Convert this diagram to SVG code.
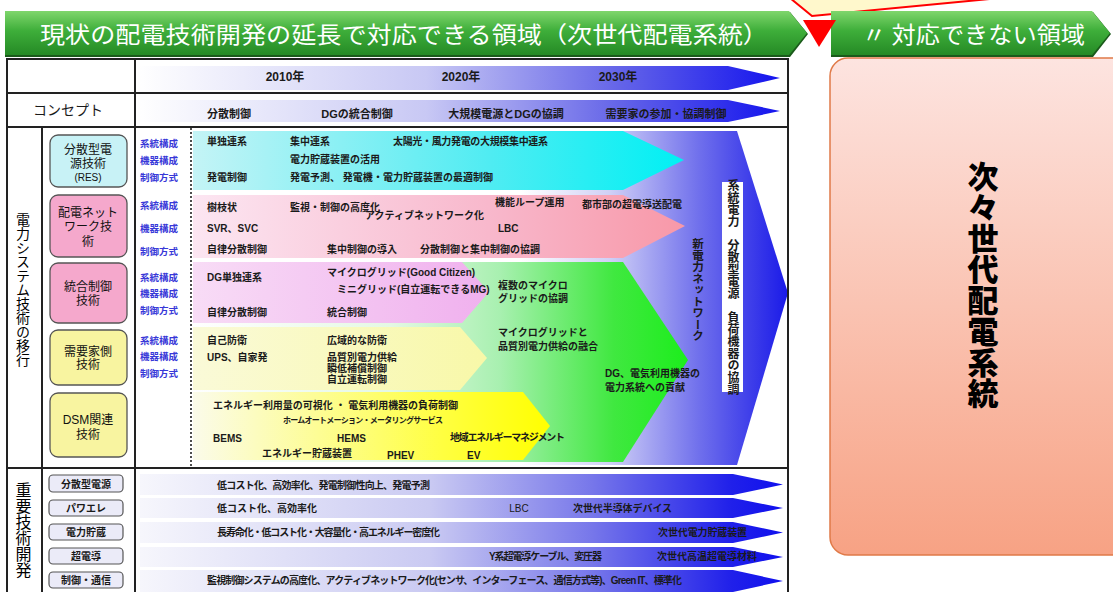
<svg xmlns="http://www.w3.org/2000/svg" width="1113" height="592" viewBox="0 0 1113 592">
<style>
.t{font-family:"Liberation Sans","Noto Sans CJK JP",sans-serif;font-size:10px;font-weight:bold;fill:#1a1a1a;dominant-baseline:central}
.lab{fill:#3838d8;font-size:9.5px}
.hd{font-size:12px}
.nd{font-size:12px;font-weight:normal;fill:#111;text-anchor:middle}
.v{writing-mode:vertical-rl;text-anchor:middle}
.ban{font-family:"Noto Sans CJK JP",sans-serif;font-size:23px;fill:#fff;dominant-baseline:central}
.ln{stroke:#222;stroke-width:2;fill:none}
.box{stroke:#555;stroke-width:1.3}
.bl{fill:#ebebf8;stroke:#555;stroke-width:1.2}
</style>
<defs>
<linearGradient id="gGreen" x1="0" y1="0" x2="0" y2="1">
<stop offset="0" stop-color="#7fd66c"/><stop offset="0.45" stop-color="#3eae3a"/><stop offset="1" stop-color="#258a25"/>
</linearGradient>
<linearGradient id="gHead" gradientUnits="userSpaceOnUse" x1="137" y1="0" x2="780" y2="0">
<stop offset="0" stop-color="#ffffff"/><stop offset="0.45" stop-color="#c8c8f4"/><stop offset="0.75" stop-color="#6464e8"/><stop offset="1" stop-color="#1414ee"/>
</linearGradient>
<linearGradient id="gBig" gradientUnits="userSpaceOnUse" x1="193" y1="0" x2="788" y2="0">
<stop offset="0" stop-color="#ffffff"/><stop offset="0.55" stop-color="#ffffff"/><stop offset="0.7" stop-color="#d0d0f6"/><stop offset="0.85" stop-color="#7070ec"/><stop offset="1" stop-color="#1a1ae8"/>
</linearGradient>
<linearGradient id="gCyan" gradientUnits="userSpaceOnUse" x1="193" y1="0" x2="685" y2="0">
<stop offset="0" stop-color="#c4f4f6"/><stop offset="0.6" stop-color="#50ecf2"/><stop offset="1" stop-color="#00f0f4"/>
</linearGradient>
<linearGradient id="gPink" gradientUnits="userSpaceOnUse" x1="193" y1="0" x2="685" y2="0">
<stop offset="0" stop-color="#fce6f2"/><stop offset="0.6" stop-color="#f8b8cc"/><stop offset="1" stop-color="#f898a8"/>
</linearGradient>
<linearGradient id="gGr" gradientUnits="userSpaceOnUse" x1="193" y1="0" x2="688" y2="0">
<stop offset="0" stop-color="#ffffff"/><stop offset="0.4" stop-color="#e4f8e4"/><stop offset="0.62" stop-color="#a8f0b0"/><stop offset="0.85" stop-color="#40e840"/><stop offset="1" stop-color="#1cee1c"/>
</linearGradient>
<linearGradient id="gMag" gradientUnits="userSpaceOnUse" x1="193" y1="0" x2="490" y2="0">
<stop offset="0" stop-color="#f8dcf6"/><stop offset="1" stop-color="#f0b0ee"/>
</linearGradient>
<linearGradient id="gYel" gradientUnits="userSpaceOnUse" x1="193" y1="0" x2="487" y2="0">
<stop offset="0" stop-color="#fafad8"/><stop offset="1" stop-color="#f8f8a8"/>
</linearGradient>
<linearGradient id="gDsm" gradientUnits="userSpaceOnUse" x1="193" y1="0" x2="550" y2="0">
<stop offset="0" stop-color="#fbfbea"/><stop offset="0.7" stop-color="#ffff40"/><stop offset="1" stop-color="#ffff00"/>
</linearGradient>
<linearGradient id="gBot" gradientUnits="userSpaceOnUse" x1="140" y1="0" x2="783" y2="0">
<stop offset="0" stop-color="#f6f6fc"/><stop offset="0.45" stop-color="#cacaf2"/><stop offset="0.7" stop-color="#7878ea"/><stop offset="0.92" stop-color="#2020ea"/><stop offset="1" stop-color="#1010ee"/>
</linearGradient>
<linearGradient id="gRight" x1="0" y1="0" x2="0" y2="1">
<stop offset="0" stop-color="#fde4e0"/><stop offset="1" stop-color="#f7a284"/>
</linearGradient>
</defs>

<rect width="1113" height="592" fill="#ffffff"/>

<!-- top callout -->
<polygon points="790,-2 812,16 1000,-2" fill="#fff8cc" stroke="#ff0000" stroke-width="2"/>

<!-- banners -->
<g id="banner-left">
<polygon points="5,12 790,12 808,34 790,57 5,57" fill="#1a5a1a"/>
<polygon points="5,11 789,11 807,33 789,55 5,55" fill="url(#gGreen)"/>
<text class="ban" x="40" y="33" textLength="728" lengthAdjust="spacingAndGlyphs">現状の配電技術開発の延長で対応できる領域（次世代配電系統）</text>
</g>
<g id="banner-right">
<polygon points="831,12 1093,12 1111,34 1093,57 831,57" fill="#1a5a1a"/>
<polygon points="831,11 1092,11 1110,33 1092,55 831,55" fill="url(#gGreen)"/>
<text class="ban" x="862" y="33" textLength="223" lengthAdjust="spacingAndGlyphs">〃 対応できない領域</text>
</g>
<polygon id="red-triangle" points="803,20 836,20 819,47" fill="#ff0000"/>

<!-- right box -->
<g id="node-next-next">
<rect x="830" y="58" width="300" height="497" rx="18" fill="url(#gRight)" stroke="#e07a48" stroke-width="1.5"/>
<text class="t v" x="983" y="285" style="font-size:31px;font-family:'Noto Sans CJK JP',sans-serif;font-weight:900;fill:#000">次々世代配電系統</text>
</g>

<!-- table background arrows -->
<g id="arrows">
<polygon points="137,66 728,66 780,78 728,90 137,90" fill="url(#gHead)"/>
<polygon points="137,100 728,100 780,111 728,122 137,122" fill="url(#gHead)"/>
<polygon points="193,131 737,131 788,293 737,465 193,465" fill="url(#gBig)"/>
<polygon points="193,131 623,131 684,160 623,190 193,190" fill="url(#gCyan)"/>
<polygon points="193,195 623,195 685,226 623,258 193,258" fill="url(#gPink)"/>
<polygon points="193,262 623,262 688,360 623,462 193,462" fill="url(#gGr)"/>
<polygon points="193,262 462,262 489,292 462,323 193,323" fill="url(#gMag)"/>
<polygon points="193,327 460,327 487,358 460,390 193,390" fill="url(#gYel)"/>
<polygon points="193,392 523,392 550,426 523,460 193,460" fill="url(#gDsm)"/>
<polygon points="140,474 733,474 783,484.5 733,495 140,495" fill="url(#gBot)"/>
<polygon points="140,498 733,498 783,508 733,518 140,518" fill="url(#gBot)"/>
<polygon points="140,522 733,522 783,532.5 733,543 140,543" fill="url(#gBot)"/>
<polygon points="140,547 733,547 783,557 733,567 140,567" fill="url(#gBot)"/>
<polygon points="140,570 733,570 783,581 733,592 140,592" fill="url(#gBot)"/>
</g>

<!-- table lines -->
<g id="table">
<rect x="7" y="59" width="781" height="540" class="ln"/>
<line x1="7" y1="93" x2="788" y2="93" class="ln"/>
<line x1="7" y1="127" x2="788" y2="127" class="ln"/>
<line x1="7" y1="468" x2="788" y2="468" class="ln"/>
<line x1="135" y1="59" x2="135" y2="592" class="ln"/>
<line x1="42" y1="127" x2="42" y2="592" class="ln"/>
<line x1="191" y1="128" x2="191" y2="467" stroke="#222" stroke-width="1.6" stroke-dasharray="2,2"/>
</g>

<!-- header texts -->
<g id="header">
<text class="t hd" x="285" y="77" text-anchor="middle">2010年</text>
<text class="t hd" x="461" y="77" text-anchor="middle">2020年</text>
<text class="t hd" x="618" y="77" text-anchor="middle">2030年</text>
<text class="t" x="68" y="110" text-anchor="middle" style="font-size:14px;font-weight:normal">コンセプト</text>
<text class="t" x="229" y="114" text-anchor="middle" style="font-size:11px">分散制御</text>
<text class="t" x="357" y="114" text-anchor="middle" style="font-size:11px">DGの統合制御</text>
<text class="t" x="506" y="114" text-anchor="middle" style="font-size:11px">大規模電源とDGの協調</text>
<text class="t" x="666" y="114" text-anchor="middle" style="font-size:11px">需要家の参加・協調制御</text>
</g>

<text class="t v" x="22" y="290" style="font-size:14px;font-weight:normal;fill:#000">電力システム技術の移行</text>
<text class="t v" x="22" y="530" style="font-size:16px;font-weight:normal;fill:#000">重要技術開発</text>

<!-- nodes -->
<g id="node-res">
<rect x="50" y="135" width="77" height="52" rx="8" fill="#c8f2f6" class="box"/>
<text class="t nd" x="88" y="150">分散型電</text>
<text class="t nd" x="88" y="164">源技術</text>
<text class="t nd" x="88" y="177" style="font-size:10px">(RES)</text>
</g>
<g id="node-network">
<rect x="50" y="195" width="77" height="62" rx="8" fill="#f5a8cc" class="box"/>
<text class="t nd" x="88" y="213">配電ネット</text>
<text class="t nd" x="88" y="227">ワーク技</text>
<text class="t nd" x="88" y="242">術</text>
</g>
<g id="node-integrated">
<rect x="50" y="263" width="77" height="60" rx="8" fill="#f5a8cc" class="box"/>
<text class="t nd" x="88" y="287">統合制御</text>
<text class="t nd" x="88" y="301">技術</text>
</g>
<g id="node-demand">
<rect x="50" y="330" width="77" height="55" rx="8" fill="#f8f4a0" class="box"/>
<text class="t nd" x="88" y="352">需要家側</text>
<text class="t nd" x="88" y="365">技術</text>
</g>
<g id="node-dsm">
<rect x="50" y="393" width="77" height="64" rx="8" fill="#f8f4a0" class="box"/>
<text class="t nd" x="88" y="420">DSM関連</text>
<text class="t nd" x="88" y="435">技術</text>
</g>

<!-- category labels -->
<g id="labels">
<text class="t lab" x="140" y="143">系統構成</text>
<text class="t lab" x="140" y="160">機器構成</text>
<text class="t lab" x="140" y="177">制御方式</text>
<text class="t lab" x="140" y="205">系統構成</text>
<text class="t lab" x="140" y="228">機器構成</text>
<text class="t lab" x="140" y="251">制御方式</text>
<text class="t lab" x="140" y="277">系統構成</text>
<text class="t lab" x="140" y="293">機器構成</text>
<text class="t lab" x="140" y="310">制御方式</text>
<text class="t lab" x="140" y="340">系統構成</text>
<text class="t lab" x="140" y="356">機器構成</text>
<text class="t lab" x="140" y="373">制御方式</text>
</g>

<!-- body texts -->
<g id="body">
<text class="t" x="207" y="141">単独連系</text>
<text class="t" x="290" y="141">集中連系</text>
<text class="t" x="393" y="141" textLength="155">太陽光・風力発電の大規模集中連系</text>
<text class="t" x="290" y="159">電力貯蔵装置の活用</text>
<text class="t" x="207" y="177">発電制御</text>
<text class="t" x="290" y="177" textLength="203">発電予測、 発電機・電力貯蔵装置の最適制御</text>

<text class="t" x="207" y="207">樹枝状</text>
<text class="t" x="290" y="207">監視・制御の高度化</text>
<text class="t" x="365" y="215">アクティブネットワーク化</text>
<text class="t" x="495" y="202">機能ループ運用</text>
<text class="t" x="582" y="204">都市部の超電導送配電</text>
<text class="t" x="207" y="228">SVR、SVC</text>
<text class="t" x="498" y="228">LBC</text>
<text class="t" x="207" y="249">自律分散制御</text>
<text class="t" x="327" y="249">集中制御の導入</text>
<text class="t" x="420" y="249">分散制御と集中制御の協調</text>

<text class="t" x="207" y="277">DG単独連系</text>
<text class="t" x="327" y="272">マイクログリッド(Good Citizen)</text>
<text class="t" x="337" y="289">ミニグリッド(自立運転できるMG)</text>
<text class="t" x="207" y="312">自律分散制御</text>
<text class="t" x="327" y="312">統合制御</text>
<text class="t" x="498" y="285">複数のマイクロ</text>
<text class="t" x="498" y="298">グリッドの協調</text>

<text class="t" x="207" y="340">自己防衛</text>
<text class="t" x="327" y="340">広域的な防衛</text>
<text class="t" x="207" y="357">UPS、自家発</text>
<text class="t" x="327" y="357">品質別電力供給</text>
<text class="t" x="327" y="368">瞬低補償制御</text>
<text class="t" x="327" y="379">自立運転制御</text>
<text class="t" x="498" y="332">マイクログリッドと</text>
<text class="t" x="498" y="346">品質別電力供給の融合</text>
<text class="t" x="605" y="373">DG、電気利用機器の</text>
<text class="t" x="605" y="387">電力系統への貢献</text>

<text class="t" x="213" y="405" textLength="245">エネルギー利用量の可視化 ・ 電気利用機器の負荷制御</text>
<text class="t" x="283" y="420" style="font-size:8px" textLength="160">ホームオートメーション・メータリングサービス</text>
<text class="t" x="213" y="438">BEMS</text>
<text class="t" x="337" y="438">HEMS</text>
<text class="t" x="450" y="437" textLength="115">地域エネルギーマネジメント</text>
<text class="t" x="262" y="453">エネルギー貯蔵装置</text>
<text class="t" x="387" y="455">PHEV</text>
<text class="t" x="467" y="455">EV</text>

<text class="t" x="697" y="290" style="writing-mode:vertical-rl;text-anchor:middle;font-size:11.5px">新電力ネットワーク</text>
</g>

<g id="node-coordination">
<rect x="722" y="182" width="21" height="210" fill="#ffffff"/>
<text class="t v" x="732" y="287" style="font-size:12px">系統電力　分散型電源　負荷機器の協調</text>
</g>

<!-- bottom section -->
<g id="node-b1"><rect x="49" y="475" width="74" height="17" rx="4" class="bl"/><text class="t" x="86" y="484" text-anchor="middle">分散型電源</text></g>
<g id="node-b2"><rect x="49" y="500" width="74" height="16" rx="4" class="bl"/><text class="t" x="86" y="508" text-anchor="middle">パワエレ</text></g>
<g id="node-b3"><rect x="49" y="524" width="74" height="16" rx="4" class="bl"/><text class="t" x="86" y="532" text-anchor="middle">電力貯蔵</text></g>
<g id="node-b4"><rect x="49" y="548" width="74" height="16" rx="4" class="bl"/><text class="t" x="86" y="556" text-anchor="middle">超電導</text></g>
<g id="node-b5"><rect x="49" y="572" width="74" height="16" rx="4" class="bl"/><text class="t" x="86" y="580" text-anchor="middle">制御・通信</text></g>

<g id="bottom-texts">
<text class="t" x="217" y="485" textLength="213">低コスト化、高効率化、発電制御性向上、発電予測</text>
<text class="t" x="217" y="508">低コスト化、高効率化</text>
<text class="t" x="519" y="508" text-anchor="middle" style="font-weight:normal">LBC</text>
<text class="t" x="573" y="508" textLength="99">次世代半導体デバイス</text>
<text class="t" x="217" y="532" textLength="223">長寿命化・低コスト化・大容量化・高エネルギー密度化</text>
<text class="t" x="658" y="532" textLength="89">次世代電力貯蔵装置</text>
<text class="t" x="489" y="556" textLength="113">Y系超電導ケーブル、変圧器</text>
<text class="t" x="657" y="556" textLength="100">次世代高温超電導材料</text>
<text class="t" x="207" y="580" textLength="475">監視制御システムの高度化、アクティブネットワーク化(センサ、インターフェース、通信方式等)、Green IT、標準化</text>
</g>
</svg>
